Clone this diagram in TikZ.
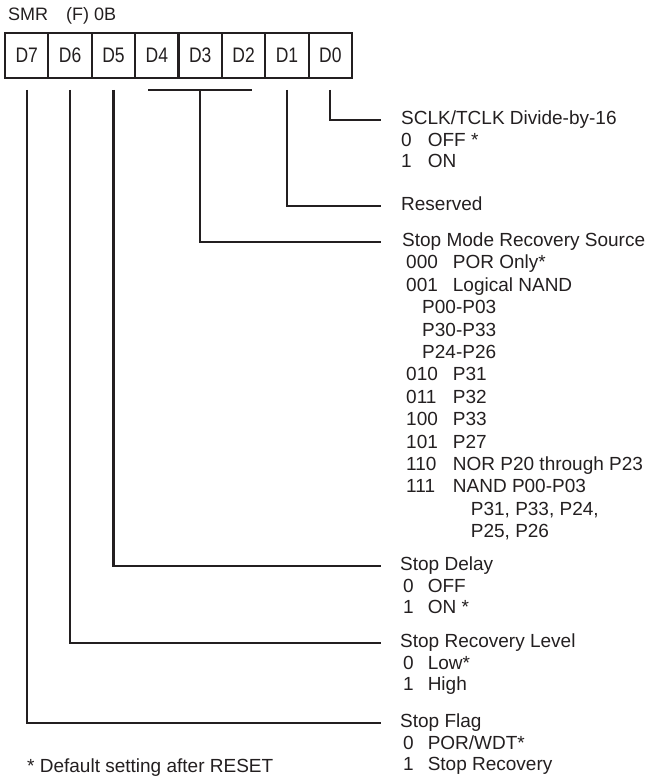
\documentclass[tikz,border=0pt]{standalone}
\usepackage{fontspec}
\setmainfont{Liberation Sans}
\usepackage{tikz}
\usetikzlibrary{positioning}
\definecolor{figink}{RGB}{35,31,32}
\newcommand{\tallbit}[1]{\scalebox{1}[1.2]{#1}}
\newcommand{\descsize}{\fontsize{19pt}{21.5pt}\selectfont}
\tikzset{
  bit/.style  ={draw=figink, line width=2.1pt, minimum width=43.375pt, minimum height=45pt,
                inner sep=0pt, outer sep=0pt, text=figink, font=\fontsize{17.5pt}{17.5pt}\selectfont},
  wire/.style ={draw=figink, line width=2.1pt},
  hd/.style   ={anchor=west, inner sep=0pt, text height=15.05pt, text depth=6.45pt,
                text=figink, font=\descsize},
  opt/.style  ={anchor=north west, inner sep=0pt, text=figink, font=\descsize},
  lab/.style  ={anchor=base west, inner sep=0pt, text=figink},
}

\begin{document}
\begin{tikzpicture}[x=1pt,y=-1pt]
  \useasboundingbox (0,0) rectangle (647,783);
  % register name and bit cells
  \node[lab, font=\fontsize{18pt}{18pt}\selectfont] (regname) at (8,20.7) {SMR\quad(F) 0B};
  \node[bit] (D7) at (26.7,55.5) {\tallbit{D7}};
  \node[bit, right=0pt of D7] (D6) {\tallbit{D6}};
  \node[bit, right=0pt of D6] (D5) {\tallbit{D5}};
  \node[bit, right=0pt of D5] (D4) {\tallbit{D4}};
  \node[bit, right=0pt of D4] (D3) {\tallbit{D3}};
  \node[bit, right=0pt of D3] (D2) {\tallbit{D2}};
  \node[bit, right=0pt of D2] (D1) {\tallbit{D1}};
  \node[bit, right=0pt of D1] (D0) {\tallbit{D0}};

  % descriptions
  \node[hd] (hdClk) at (401,120) {SCLK/TCLK Divide-by-16};
  \node[opt] (optClk) at (hdClk.south west) {\begin{tabular}{@{}l@{\hspace{16pt}}l@{}}
    0 & OFF *\\
    1 & ON
  \end{tabular}};
  \node[hd] (hdRes) at (401,206) {Reserved};
  \node[hd] (hdSrc) at (402,242) {Stop Mode Recovery Source};
  \node[opt, font=\fontsize{19pt}{22.4pt}\selectfont] (optSrc) at ([xshift=4pt]hdSrc.south west)
  {\begin{tabular}{@{}l@{\hspace{15pt}}l@{}}
    000 & POR Only*\\
    001 & Logical NAND\\
    \multicolumn{2}{@{\hspace{16pt}}l@{}}{P00-P03}\\
    \multicolumn{2}{@{\hspace{16pt}}l@{}}{P30-P33}\\
    \multicolumn{2}{@{\hspace{16pt}}l@{}}{P24-P26}\\
    010 & P31\\
    011 & P32\\
    100 & P33\\
    101 & P27\\
    110 & NOR P20 through P23\\
    111 & NAND P00-P03\\
        & \hspace*{18pt}P31, P33, P24,\\
        & \hspace*{18pt}P25, P26
  \end{tabular}};
  \node[hd] (hdDly) at (400,566) {Stop Delay};
  \node[opt] (optDly) at ([xshift=3pt]hdDly.south west) {\begin{tabular}{@{}l@{\hspace{14pt}}l@{}}
    0 & OFF\\
    1 & ON *
  \end{tabular}};
  \node[hd] (hdLvl) at (400,643) {Stop Recovery Level};
  \node[opt] (optLvl) at ([xshift=3pt]hdLvl.south west) {\begin{tabular}{@{}l@{\hspace{14pt}}l@{}}
    0 & Low*\\
    1 & High
  \end{tabular}};
  \node[hd] (hdFlag) at (400,723) {Stop Flag};
  \node[opt] (optFlag) at ([xshift=3pt]hdFlag.south west) {\begin{tabular}{@{}l@{\hspace{14pt}}l@{}}
    0 & POR/WDT*\\
    1 & Stop Recovery
  \end{tabular}};
  \node[lab, font=\descsize] (note) at (27,772) {*\ Default setting after RESET};

  % connectors
  \draw[wire] ([yshift=-12pt]D0.south) |- ([xshift=-20pt]hdClk.west);
  \draw[wire] ([yshift=-12pt]D1.south) |- ([xshift=-20pt]hdRes.west);
  \draw[wire] ([xshift=13pt,yshift=-12pt]D4.south west) -- ([xshift=-13pt,yshift=-12pt]D2.south east);
  \draw[wire] ([yshift=-12pt]D3.south) |- ([xshift=-21pt]hdSrc.west);
  \draw[wire] ([yshift=-12pt]D5.south) |- ([xshift=-19pt]hdDly.west);
  \draw[wire] ([yshift=-12pt]D6.south) |- ([xshift=-19pt]hdLvl.west);
  \draw[wire] ([yshift=-12pt]D7.south) |- ([xshift=-19pt]hdFlag.west);
\end{tikzpicture}
\end{document}
